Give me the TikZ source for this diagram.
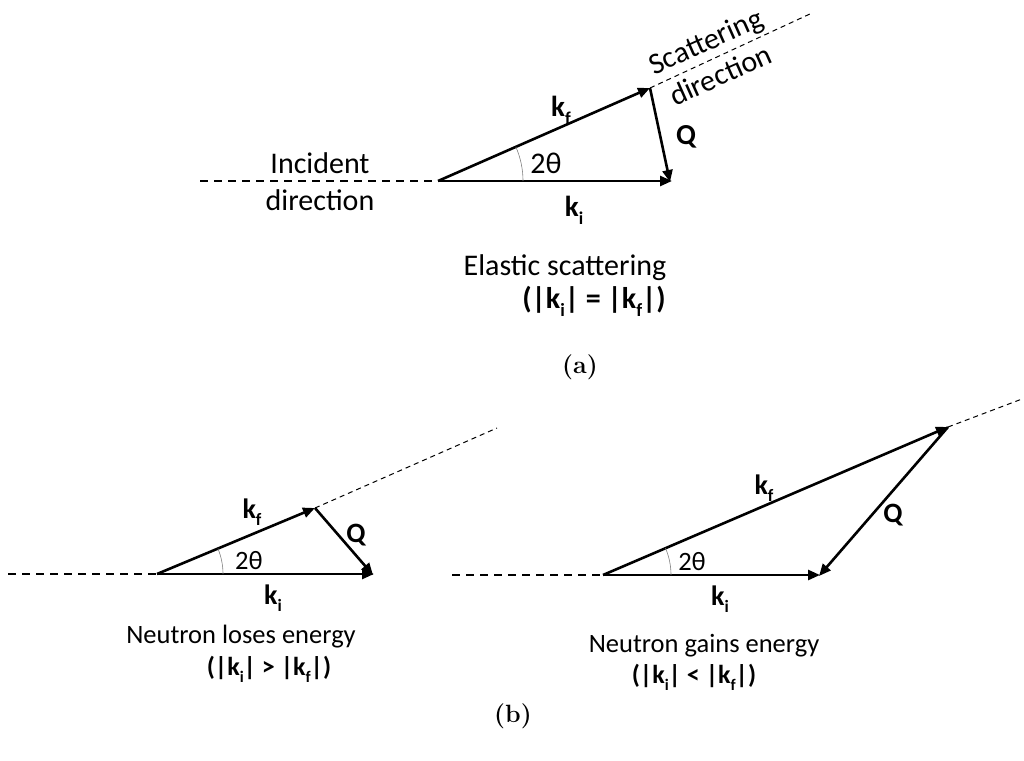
\documentclass[tikz,border=0pt]{standalone}
\usepackage{fontspec}
\newfontfamily\carlitofont{Carlito}
\usetikzlibrary{arrows.meta,angles}
\tikzset{
  vec/.style={line width=2.6pt,-{Triangle[length=12pt,width=10pt]}},
  incdash/.style={line width=1.2pt,dash pattern=on 8pt off 6pt},
  scatdash/.style={line width=1pt,dash pattern=on 5pt off 4pt},
  angarc/.style={draw=gray,line width=0.6pt},
  txt/.style={font=\carlitofont\fontsize{30}{37}\selectfont,inner sep=0pt},
  txtb/.style={font=\carlitofont\fontsize{26.5}{32}\selectfont,inner sep=0pt},
  lbl/.style={font=\carlitofont\bfseries\fontsize{29}{32}\selectfont,inner sep=0pt},
  lblb/.style={font=\carlitofont\bfseries\fontsize{28}{30}\selectfont,inner sep=0pt},
  cnd/.style={font=\carlitofont\bfseries\fontsize{30}{32}\selectfont,inner sep=0pt},
  cndb/.style={font=\carlitofont\bfseries\fontsize{26}{30}\selectfont,inner sep=0pt},
  captxt/.style={font=\bfseries\fontsize{25}{28}\selectfont,inner sep=0pt}
}
\newcommand{\kvec}[1]{\textbf{k}\raisebox{-0.55ex}{\fontsize{0.62em}{0.7em}\selectfont\textbf{#1}}}
\begin{document}
\begin{tikzpicture}[x=1pt,y=-1pt]
\useasboundingbox (0,0) rectangle (1024,760);
% ---------- (a)
\coordinate (Oa) at (438,181);
\coordinate (Ia) at (200,181);
\coordinate (KIa) at (672,181);
\coordinate (KFa) at (650,88);
\coordinate (Sa) at (812,13);
\draw[incdash] (Ia) -- (Oa);
\draw[scatdash] (KFa) -- (Sa);
\draw[vec] (Oa) -- (KIa);
\draw[vec] (Oa) -- (KFa);
\draw[vec] (KFa) -- (670,182);
\pic[angarc,angle radius=85pt] {angle=KIa--Oa--KFa};
\node[lbl] (kfa) at (561,110) {\kvec{f}};
\node[lbl] (qa) at (686,137) {Q};
\node[txt] (tha) at (546,163) {2θ};
\node[lbl] (kia) at (574,210) {\kvec{i}};
\node[txt,align=center] (inca) at (320,182) {Incident\\direction};
\node[txt,align=center,rotate=24] (scata) at (713,58) {Scattering\\direction};
\node[txt] (ela) at (565,268) {Elastic scattering};
\node[cnd] (cnda) at (594,301) {(|\kvec{i}| = |\kvec{f}|)};
\node[captxt] (capa) at (580,367) {(a)};
% ---------- (b) left
\coordinate (Ob) at (157,574);
\coordinate (Ib) at (8,574);
\coordinate (KIb) at (374,574);
\coordinate (KFb) at (315,508);
\coordinate (Sb) at (497,428);
\draw[incdash] (Ib) -- (Ob);
\draw[scatdash] (KFb) -- (Sb);
\draw[vec] (Ob) -- (KIb);
\draw[vec] (Ob) -- (KFb);
\draw[vec] (KFb) -- (373,575);
\pic[angarc,angle radius=66pt] {angle=KIb--Ob--KFb};
\node[lblb] (kfb) at (252,512) {\kvec{f}};
\node[lblb] (qb) at (356,535) {Q};
\node[txtb] (thb) at (249,561) {2θ};
\node[lblb] (kib) at (273,598) {\kvec{i}};
\node[txtb] (lose) at (241,637) {Neutron loses energy};
\node[cndb] (cndbl) at (269,669) {(|\kvec{i}| > |\kvec{f}|)};
% ---------- (b) right
\coordinate (Oc) at (603,575);
\coordinate (Ic) at (452,575);
\coordinate (KIc) at (820,575);
\coordinate (KFc) at (948,427);
\coordinate (Sc) at (1022,399);
\draw[incdash] (Ic) -- (Oc);
\draw[scatdash] (KFc) -- (Sc);
\draw[vec] (Oc) -- (KIc);
\draw[vec] (Oc) -- (KFc);
\draw[vec] (KFc) -- (819,576);
\pic[angarc,angle radius=68pt] {angle=KIc--Oc--KFc};
\node[lblb] (kfc) at (764,488) {\kvec{f}};
\node[lblb] (qc) at (893,515) {Q};
\node[txtb] (thc) at (692,562) {2θ};
\node[lblb] (kic) at (720,599) {\kvec{i}};
\node[txtb] (gain) at (704,646) {Neutron gains energy};
\node[cndb] (cndc) at (694,677) {(|\kvec{i}| < |\kvec{f}|)};
\node[captxt] (capb) at (513,716) {(b)};
\end{tikzpicture}
\end{document}
